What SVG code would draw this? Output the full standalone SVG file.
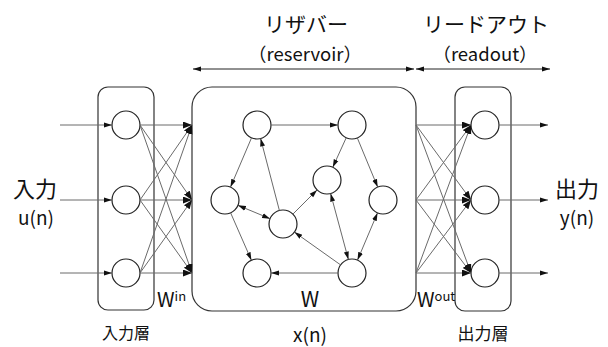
<svg xmlns="http://www.w3.org/2000/svg" width="608" height="347" viewBox="0 0 608 347">
<style>
.box{fill:#fff;stroke:#333;stroke-width:1.2}
.nd{fill:#fff;stroke:#222;stroke-width:1.2}
.ln{stroke:#6a6a6a;stroke-width:1;fill:none}
.t{font-family:"Noto Sans CJK JP","Liberation Sans",sans-serif;fill:#111}
</style>
<defs>
<marker id="ah" markerUnits="userSpaceOnUse" markerWidth="10" markerHeight="8" refX="9" refY="3.5" orient="auto-start-reverse"><path d="M0,0 L9,3.5 L0,7 z" fill="#111"/></marker>
<marker id="ah2" markerUnits="userSpaceOnUse" markerWidth="9" markerHeight="7" refX="8" refY="3" orient="auto-start-reverse"><path d="M0,0.5 L8,3 L0,5.5 z" fill="#111"/></marker>
</defs>
<g id="top-labels">
<text class="t" x="306" y="32" font-size="21" text-anchor="middle">リザバー</text>
<text class="t" x="305" y="61" font-size="18.5" text-anchor="middle">（reservoir）</text>
<text class="t" x="486" y="32" font-size="21" text-anchor="middle">リードアウト</text>
<text class="t" x="485" y="61" font-size="18.5" text-anchor="middle">（readout）</text>
</g>
<g id="input-layer">
<rect class="box" x="98" y="87" width="56" height="223" rx="10"/>
<circle class="nd" cx="126" cy="125" r="14"/>
<circle class="nd" cx="126" cy="200" r="14"/>
<circle class="nd" cx="126" cy="273" r="14"/>
</g>
<g id="reservoir">
<rect class="box" x="192" y="87" width="224" height="224" rx="20"/>
<circle class="nd" cx="257" cy="125" r="14"/>
<circle class="nd" cx="352" cy="125" r="14"/>
<circle class="nd" cx="327" cy="180" r="14"/>
<circle class="nd" cx="225" cy="200" r="14"/>
<circle class="nd" cx="283" cy="224" r="14"/>
<circle class="nd" cx="383" cy="200" r="14"/>
<circle class="nd" cx="257" cy="273" r="14"/>
<circle class="nd" cx="352" cy="273" r="14"/>
</g>
<g id="output-layer">
<rect class="box" x="455" y="87" width="56" height="224" rx="10"/>
<circle class="nd" cx="485" cy="125" r="14"/>
<circle class="nd" cx="485" cy="200" r="14"/>
<circle class="nd" cx="485" cy="273" r="14"/>
</g>
<g id="connectors">
<line class="ln" x1="193" y1="69" x2="414" y2="69" marker-start="url(#ah2)" marker-end="url(#ah2)" style="stroke:#222"/>
<line class="ln" x1="416" y1="69" x2="550" y2="69" marker-start="url(#ah2)" marker-end="url(#ah2)" style="stroke:#222"/>
<line class="ln" x1="60" y1="125" x2="112" y2="125" marker-end="url(#ah2)"/>
<line class="ln" x1="60" y1="200" x2="112" y2="200" marker-end="url(#ah2)"/>
<line class="ln" x1="60" y1="273" x2="112" y2="273" marker-end="url(#ah2)"/>
<line class="ln" x1="140" y1="125" x2="192" y2="125" marker-end="url(#ah)"/>
<line class="ln" x1="140" y1="125" x2="192" y2="200" marker-end="url(#ah)"/>
<line class="ln" x1="140" y1="125" x2="192" y2="273" marker-end="url(#ah)"/>
<line class="ln" x1="140" y1="200" x2="192" y2="125" marker-end="url(#ah)"/>
<line class="ln" x1="140" y1="200" x2="192" y2="200" marker-end="url(#ah)"/>
<line class="ln" x1="140" y1="200" x2="192" y2="273" marker-end="url(#ah)"/>
<line class="ln" x1="140" y1="273" x2="192" y2="125" marker-end="url(#ah)"/>
<line class="ln" x1="140" y1="273" x2="192" y2="200" marker-end="url(#ah)"/>
<line class="ln" x1="140" y1="273" x2="192" y2="273" marker-end="url(#ah)"/>
<line class="ln" x1="271" y1="125" x2="338" y2="125" marker-end="url(#ah2)"/>
<line class="ln" x1="251.5" y1="137.9" x2="230.5" y2="187.1" marker-end="url(#ah2)"/>
<line class="ln" x1="279.4" y1="210.5" x2="260.6" y2="138.5" marker-end="url(#ah2)"/>
<line class="ln" x1="237.9" y1="205.3" x2="270.1" y2="218.7" marker-start="url(#ah2)" marker-end="url(#ah2)"/>
<line class="ln" x1="292.9" y1="214.1" x2="317.1" y2="189.9" marker-end="url(#ah2)"/>
<line class="ln" x1="346.2" y1="137.8" x2="332.8" y2="167.2" marker-end="url(#ah2)"/>
<line class="ln" x1="357.3" y1="137.9" x2="377.7" y2="187.1" marker-end="url(#ah2)"/>
<line class="ln" x1="330.6" y1="193.5" x2="348.4" y2="259.5" marker-start="url(#ah2)" marker-end="url(#ah2)"/>
<line class="ln" x1="377.5" y1="212.9" x2="357.5" y2="260.1" marker-start="url(#ah2)" marker-end="url(#ah2)"/>
<line class="ln" x1="340.6" y1="264.9" x2="294.4" y2="232.1" marker-end="url(#ah2)"/>
<line class="ln" x1="338" y1="273" x2="271" y2="273" marker-end="url(#ah2)"/>
<line class="ln" x1="230.6" y1="212.8" x2="251.4" y2="260.2" marker-end="url(#ah2)"/>
<line class="ln" x1="416" y1="125" x2="471" y2="125" marker-end="url(#ah)"/>
<line class="ln" x1="416" y1="125" x2="471" y2="200" marker-end="url(#ah)"/>
<line class="ln" x1="416" y1="125" x2="471" y2="273" marker-end="url(#ah)"/>
<line class="ln" x1="416" y1="200" x2="471" y2="125" marker-end="url(#ah)"/>
<line class="ln" x1="416" y1="200" x2="471" y2="200" marker-end="url(#ah)"/>
<line class="ln" x1="416" y1="200" x2="471" y2="273" marker-end="url(#ah)"/>
<line class="ln" x1="416" y1="273" x2="471" y2="125" marker-end="url(#ah)"/>
<line class="ln" x1="416" y1="273" x2="471" y2="200" marker-end="url(#ah)"/>
<line class="ln" x1="416" y1="273" x2="471" y2="273" marker-end="url(#ah)"/>
<line class="ln" x1="499" y1="125" x2="548" y2="125" marker-end="url(#ah2)"/>
<line class="ln" x1="499" y1="200" x2="548" y2="200" marker-end="url(#ah2)"/>
<line class="ln" x1="499" y1="273" x2="548" y2="273" marker-end="url(#ah2)"/>
</g>
<g id="labels">
<text class="t" x="35" y="197" font-size="22" text-anchor="middle">入力</text>
<text class="t" x="36" y="225" font-size="19" text-anchor="middle">u(n)</text>
<text class="t" x="577" y="197" font-size="22" text-anchor="middle">出力</text>
<text class="t" x="577" y="225" font-size="19" text-anchor="middle">y(n)</text>
<text class="t" x="157" y="307" font-size="20">W<tspan font-size="13" dy="-6">in</tspan></text>
<text class="t" x="310" y="307" font-size="21" text-anchor="middle">W</text>
<text class="t" x="417" y="307" font-size="20">W<tspan font-size="13" dy="-6">out</tspan></text>
<text class="t" x="126" y="339" font-size="16" text-anchor="middle">入力層</text>
<text class="t" x="310" y="342" font-size="19" text-anchor="middle">x(n)</text>
<text class="t" x="483" y="340" font-size="17" text-anchor="middle">出力層</text>
</g>
</svg>
